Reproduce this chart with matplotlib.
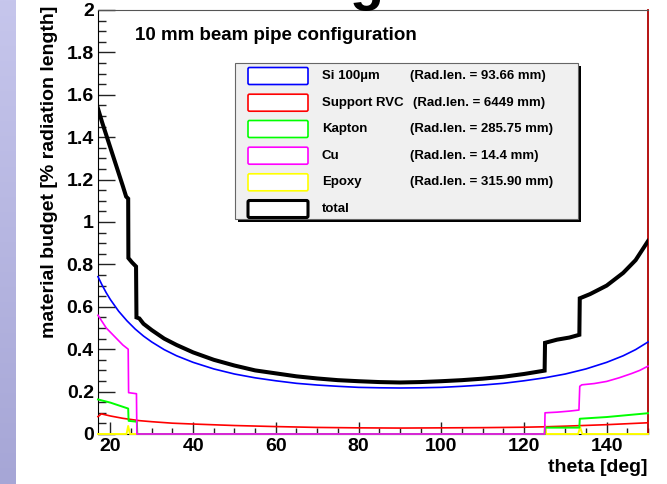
import matplotlib
matplotlib.use("Agg")
import matplotlib.pyplot as plt
import numpy as np
from matplotlib.patches import Rectangle, FancyBboxPatch
from matplotlib.colors import LinearSegmentedColormap
from matplotlib.ticker import MultipleLocator, FuncFormatter

plt.rcParams["font.family"] = ["Liberation Sans", "DejaVu Sans"]
plt.rcParams["font.weight"] = "bold"

# ---- values ----
theta_si = [17, 18, 19, 20, 22, 24, 26, 28, 30, 33, 36, 40, 45, 50, 55, 60, 65, 70, 75,
            80, 85, 90, 95, 100, 105, 110, 115, 120, 125, 130, 135, 140, 144, 147, 150]
si = [0.742, 0.702, 0.666, 0.634, 0.579, 0.534, 0.495, 0.462, 0.434, 0.398, 0.369,
      0.338, 0.307, 0.283, 0.265, 0.251, 0.239, 0.231, 0.225, 0.220, 0.218, 0.217,
      0.218, 0.220, 0.225, 0.231, 0.239, 0.251, 0.265, 0.283, 0.307, 0.338, 0.369,
      0.398, 0.434]

theta_rvc = [17, 17.8, 20, 23, 27, 30, 35, 40, 50, 60, 70, 80, 90, 100, 110, 120,
             125, 130, 140, 150]
rvc = [0.082, 0.095, 0.085, 0.074, 0.063, 0.058, 0.051, 0.047, 0.040, 0.035, 0.031,
       0.029, 0.028, 0.029, 0.030, 0.032, 0.034, 0.037, 0.044, 0.053]

theta_kap = [17, 20, 24.3, 24.4, 26.4, 26.5, 125.0, 125.1, 133.4, 133.5, 140, 150]
kapton = [0.163, 0.148, 0.120, 0.062, 0.058, 0.0, 0.0, 0.030, 0.030, 0.072, 0.080, 0.098]

theta_cu = [17, 18, 19, 20, 21, 22, 23, 24.3, 24.4, 26.3, 26.4, 125.0, 125.1, 128, 131,
            133.3, 133.5, 134, 137, 140, 143, 146, 148, 150]
cu = [0.56, 0.53, 0.50, 0.48, 0.46, 0.44, 0.42, 0.40, 0.195, 0.19, 0.0, 0.0, 0.10,
      0.103, 0.108, 0.113, 0.225, 0.232, 0.238, 0.248, 0.265, 0.285, 0.30, 0.32]

theta_epo = [17, 23.9, 24.3, 24.7, 125.0, 125.1, 125.4, 133.1, 133.6, 134.1, 150]
epoxy = [0, 0, 0.038, 0, 0, 0.042, 0, 0, 0.032, 0, 0]

theta_tot = [17, 18, 19, 20, 21, 22, 23, 23.8, 24.3, 24.35, 25.2, 26.2, 26.3, 27, 28,
             30, 33, 36, 40, 45, 50, 55, 60, 65, 70, 75, 80, 85, 90, 95, 100, 105, 110,
             115, 120, 125.0, 125.1, 128, 131, 133.4, 133.5, 136, 140, 144, 147, 150]
total = [1.535, 1.47, 1.41, 1.35, 1.29, 1.23, 1.17, 1.12, 1.11, 0.83, 0.81, 0.79, 0.55,
         0.545, 0.52, 0.49, 0.45, 0.42, 0.385, 0.35, 0.323, 0.30, 0.286, 0.272, 0.262,
         0.254, 0.249, 0.245, 0.243, 0.245, 0.249, 0.254, 0.261, 0.270, 0.283, 0.299,
         0.43, 0.445, 0.455, 0.468, 0.64, 0.66, 0.70, 0.76, 0.82, 0.91]

leg_names = ["Si 100µm", "Support RVC", "Kapton", "Cu", "Epoxy", "total"]
leg_radlen = ["(Rad.len. = 93.66 mm)", "(Rad.len. = 6449 mm)", "(Rad.len. = 285.75 mm)",
              "(Rad.len. = 14.4 mm)", "(Rad.len. = 315.90 mm)", ""]
leg_colors = ["#0000ff", "#ff0000", "#00ff00", "#ff00ff", "#ffff00", "black"]

# ---- figure ----
W, H = 667, 484
fig = plt.figure(figsize=(W / 100, H / 100), dpi=100)
fig.patch.set_facecolor("white")

# slide background strip on the left
strip = fig.add_axes([0, 0, 16 / W, 1])
grad = np.linspace(0, 1, 256).reshape(-1, 1)
cm = LinearSegmentedColormap.from_list("lav", ["#c6c6ec", "#a6a6d6"])
strip.imshow(grad, aspect="auto", cmap=cm, extent=[0, 1, 0, 1], origin="upper")
strip.axis("off")

ax = fig.add_axes([98 / W, 1 - 434 / H, (648 - 98) / W, (434 - 10) / H])
ax.plot(theta_si, si, color="#0000ff", lw=1.2, zorder=3, clip_on=False)
ax.plot(theta_rvc, rvc, color="#ff0000", lw=1.2, zorder=3, clip_on=False)
ax.plot(theta_epo, epoxy, color="#ffff00", lw=1.4, zorder=3, clip_on=False)
ax.plot(theta_kap, kapton, color="#00ff00", lw=1.4, zorder=3, clip_on=False)
ax.plot(theta_cu, cu, color="#ff00ff", lw=1.2, zorder=3, clip_on=False)
ax.plot(theta_tot, total, color="black", lw=2.9, zorder=4, solid_joinstyle="miter")

ax.set_xlim(17, 150)
ax.set_ylim(0, 2)
ax.xaxis.set_major_locator(MultipleLocator(20))
ax.xaxis.set_minor_locator(MultipleLocator(5))
ax.yaxis.set_major_locator(MultipleLocator(0.2))
ax.yaxis.set_minor_locator(MultipleLocator(0.05))
ax.yaxis.set_major_formatter(FuncFormatter(lambda v, p: f"{v:g}"))
ax.tick_params(which="both", direction="in", top=False, right=False,
               colors="#222222", labelcolor="black", labelsize=14, width=1.0)
ax.tick_params(axis="y", which="major", length=12, pad=3)
ax.tick_params(axis="y", which="minor", length=6)
ax.tick_params(axis="x", which="major", length=9, pad=3)
ax.tick_params(axis="x", which="minor", length=4)
for lab in ax.get_xticklabels() + ax.get_yticklabels():
    lab.set_fontweight("bold")
ax.spines["top"].set_color("#555555")
ax.spines["right"].set_color("#b00000")
ax.spines["right"].set_linewidth(1.3)

fig.text(648 / W, 1 - 467 / H, "theta [deg]", ha="right", va="center",
         fontsize=14, fontweight="bold")
fig.text(50 / W, 1 - 172 / H, "material budget [% radiation length]", rotation=90,
         ha="center", va="center", fontsize=14, fontweight="bold")
fig.text(135 / W, 1 - 35 / H, "10 mm beam pipe configuration", ha="left",
         va="center", fontsize=13.5, fontweight="bold")
# descender of the slide title letter above the plot
fig.text(350 / W, 1 + 1 / H, "g", ha="left", va="baseline", fontsize=40,
         fontweight="bold", color="black")

# ---- legend (drawn in pixel coordinates) ----
ov = fig.add_axes([0, 0, 1, 1], zorder=5)
ov.set_xlim(0, W)
ov.set_ylim(H, 0)
ov.axis("off")
ov.add_patch(Rectangle((238, 66), 578 - 235, 219 - 63, facecolor="black",
                       edgecolor="none"))
ov.add_patch(Rectangle((235, 63), 578 - 235, 219 - 63, facecolor="#f0f0f0",
                       edgecolor="#666666", lw=0.8))
row_y = [76, 102.7, 129, 155.7, 182.3, 209]
for name, rl, col, yc in zip(leg_names, leg_radlen, leg_colors, row_y):
    lw = 2.2 if col == "black" else 1.2
    ov.add_patch(FancyBboxPatch((248, yc - 8.5), 60, 17,
                                boxstyle="round,pad=0,rounding_size=1.5",
                                facecolor="white", edgecolor=col, lw=lw))
    ov.text(322, yc, name, ha="left", va="center", fontsize=9.5, fontweight="bold")
    if rl:
        x0 = 413 if name == "Support RVC" else 410
        ov.text(x0, yc, rl, ha="left", va="center", fontsize=9.5, fontweight="bold")

fig.savefig("out.png", dpi=100, facecolor="white")
